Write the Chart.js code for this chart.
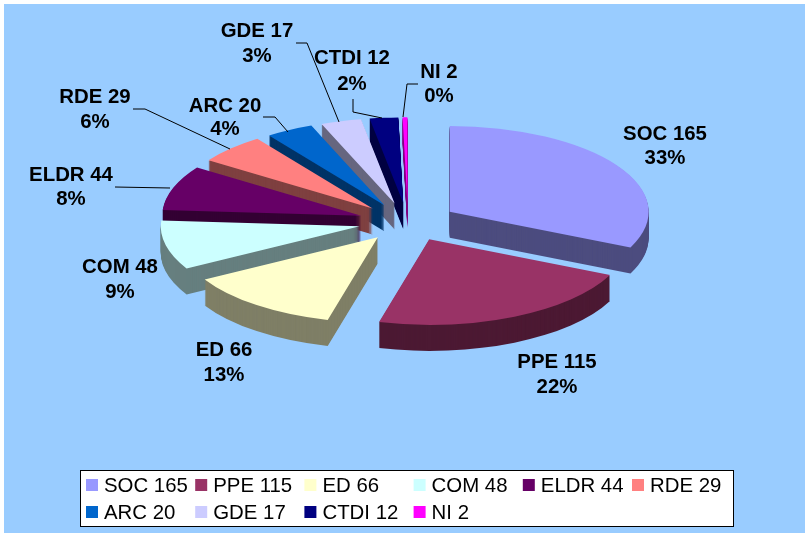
<!DOCTYPE html>
<html>
<head>
<meta charset="utf-8">
<title>Pie</title>
<style>
html, body { margin: 0; padding: 0; background: #fff; }
canvas { display: block; }
</style>
<script src="https://cdn.jsdelivr.net/npm/chart.js@4/dist/chart.umd.js"></script>
</head>
<body>
<canvas id="myPieChart" width="805" height="533"></canvas>
<script>
const categories = ['SOC', 'PPE', 'ED', 'COM', 'ELDR', 'RDE', 'ARC', 'GDE', 'CTDI', 'NI'];
const values = [165, 115, 66, 48, 44, 29, 20, 17, 12, 2];
const percents = ['33%', '22%', '13%', '9%', '8%', '6%', '4%', '3%', '2%', '0%'];
const colors = ['#9999FF', '#993366', '#FFFFCC', '#CCFFFF', '#660066', '#FF8080', '#0066CC', '#CCCCFF', '#000080', '#FF00FF'];

// posicao dos rotulos (centro x, y da primeira e da segunda linha)
const labelPos = [
    [665, 134, 158], [557, 362, 387], [224, 350, 375], [120, 267, 292], [71, 175, 199],
    [95, 97, 122], [225, 106, 129], [257, 31, 56], [352, 58, 84], [439, 72, 96]
];
const leaderLines = [
    [[115, 187], [170, 188]],
    [[133, 109], [145, 109], [230, 149]],
    [[263, 117], [275, 117], [288, 132]],
    [[296, 43], [307, 43], [339, 122]],
    [[353, 99], [353, 112], [382, 118]],
    [[418, 84], [407, 84], [403, 117]]
];

const squash = 0.43;
const explode = 49.5;
const explodeY = 0.9;
const depth = 26;

function halfColor(hex) {
    const n = parseInt(hex.slice(1), 16);
    return 'rgb(' + (n >> 16 >> 1) + ',' + ((n >> 8 & 255) >> 1) + ',' + ((n & 255) >> 1) + ')';
}

// desenha a pizza achatada com as paredes laterais
const pie3d = {
    id: 'pie3d',
    beforeDraw(chart) {
        const ctx = chart.ctx;
        ctx.save();
        ctx.fillStyle = '#99CCFF';
        ctx.fillRect(4, 4, 801, 529);
        ctx.restore();
    },
    beforeDatasetDraw(chart, args) {
        const ctx = chart.ctx;
        const arcs = args.meta.data.map((arc, i) => {
            const mid = (arc.startAngle + arc.endAngle) / 2;
            return { arc, i, dx: Math.cos(mid) * explode, dy: Math.sin(mid) * explode * explodeY };
        });
        const cx = arcs[0].arc.x;
        const cy = arcs[0].arc.y;

        // paredes, de tras para frente
        [...arcs].sort((a, b) => a.dy - b.dy).forEach(s => {
            ctx.fillStyle = halfColor(colors[s.i]);
            for (let d = depth; d >= 1; d--) {
                ctx.save();
                ctx.translate(cx, cy + d);
                ctx.scale(1, squash);
                ctx.translate(s.dx, s.dy);
                ctx.beginPath();
                ctx.moveTo(0, 0);
                ctx.arc(0, 0, s.arc.outerRadius, s.arc.startAngle, s.arc.endAngle);
                ctx.closePath();
                ctx.fill();
                ctx.restore();
            }
        });

        // topos
        arcs.forEach(s => {
            ctx.save();
            ctx.translate(cx, cy);
            ctx.scale(1, squash);
            ctx.translate(-cx + s.dx, -cy + s.dy);
            s.arc.draw(ctx);
            ctx.restore();
        });
        return false;
    },
    afterDraw(chart) {
        const ctx = chart.ctx;
        ctx.save();

        // linhas de chamada
        ctx.strokeStyle = '#000';
        ctx.lineWidth = 1;
        leaderLines.forEach(line => {
            ctx.beginPath();
            line.forEach((p, i) => i ? ctx.lineTo(p[0], p[1]) : ctx.moveTo(p[0], p[1]));
            ctx.stroke();
        });

        // rotulos
        ctx.fillStyle = '#000';
        ctx.font = 'bold 20.4px "Liberation Sans"';
        ctx.textAlign = 'center';
        ctx.textBaseline = 'middle';
        categories.forEach((cat, i) => {
            ctx.fillText(cat + ' ' + values[i], labelPos[i][0], labelPos[i][1]);
            ctx.fillText(percents[i], labelPos[i][0], labelPos[i][2]);
        });

        // legenda
        ctx.fillStyle = '#fff';
        ctx.fillRect(80.5, 470.5, 653, 56);
        ctx.strokeRect(80.5, 470.5, 653, 56);
        ctx.font = '20.4px "Liberation Sans"';
        ctx.textAlign = 'left';
        categories.forEach((cat, i) => {
            const col = i % 6;
            const y = i < 6 ? 485 : 512;
            const x = 86 + col * 109.2;
            ctx.fillStyle = colors[i];
            ctx.fillRect(x, y - 6, 12, 12);
            ctx.fillStyle = '#000';
            ctx.fillText(cat + ' ' + values[i], x + 18, y + 1);
        });
        ctx.restore();
    }
};

new Chart(document.getElementById('myPieChart'), {
    type: 'pie',
    data: {
        labels: categories,
        datasets: [{
            data: values,
            backgroundColor: colors,
            borderWidth: 0,
            clip: false
        }]
    },
    options: {
        responsive: false,
        animation: false,
        radius: 199,
        layout: { padding: { left: 11, right: 0, top: 0, bottom: 89 } },
        plugins: {
            legend: { display: false },
            tooltip: { enabled: false }
        }
    },
    plugins: [pie3d]
});
</script>
</body>
</html>
